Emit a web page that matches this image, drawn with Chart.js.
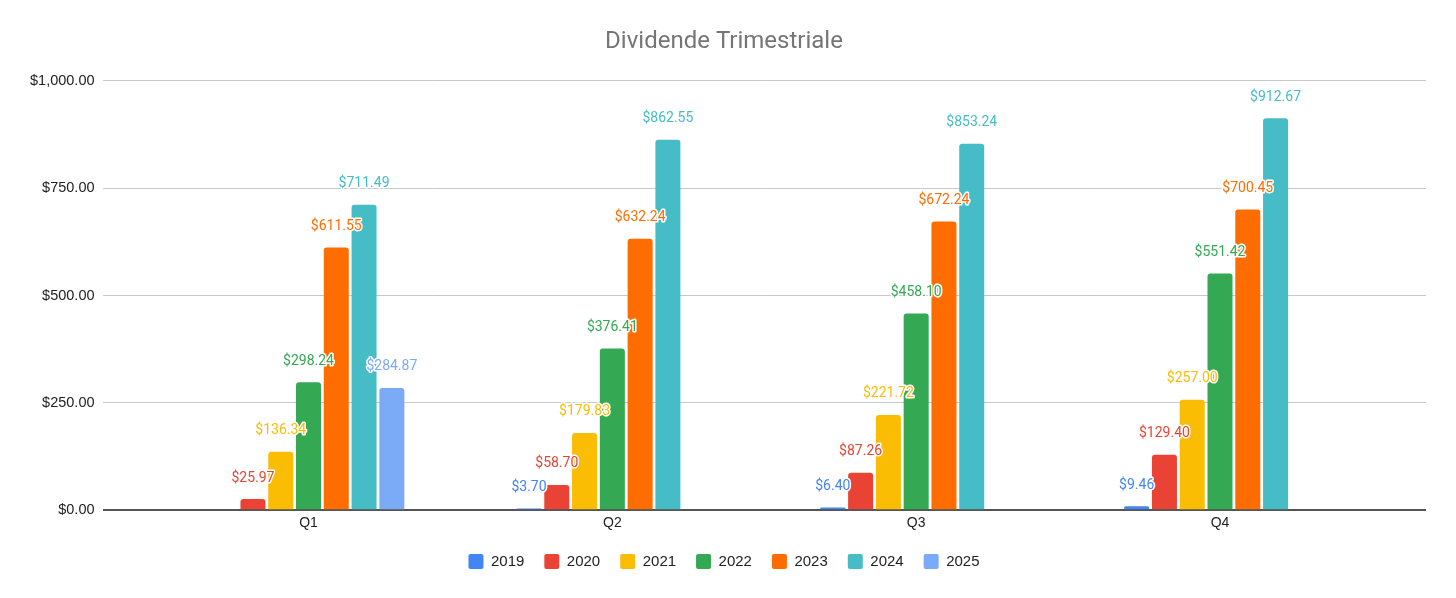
<!DOCTYPE html>
<html>
<head>
<meta charset="utf-8">
<script src="https://cdn.jsdelivr.net/npm/chart.js@4"></script>
<style>
  html, body { margin: 0; padding: 0; background: #fff; }
  #wrap { width: 1456px; height: 598px; }
</style>
</head>
<body>
<div id="wrap"><canvas id="grafico"></canvas></div>
<script>
const trimestri = ['Q1', 'Q2', 'Q3', 'Q4'];
const anni = ['2019', '2020', '2021', '2022', '2023', '2024', '2025'];
const colori = ['#4285F4', '#EA4335', '#FBBC04', '#34A853', '#FF6D01', '#46BDC6', '#7BAAF7'];

const dati2019 = [null, 3.70, 6.40, 9.46];
const dati2020 = [25.97, 58.70, 87.26, 129.40];
const dati2021 = [136.34, 179.83, 221.72, 257.00];
const dati2022 = [298.24, 376.41, 458.10, 551.42];
const dati2023 = [611.55, 632.24, 672.24, 700.45];
const dati2024 = [711.49, 862.55, 853.24, 912.67];
const dati2025 = [284.87, null, null, null];
const serie = [dati2019, dati2020, dati2021, dati2022, dati2023, dati2024, dati2025];

const tickY = [0, 250, 500, 750, 1000];

const dollari = v => '$' + v.toLocaleString('en-US', { minimumFractionDigits: 2, maximumFractionDigits: 2 });

// etichette sopra le barre, con bordo bianco come in Sheets
const etichette = {
  id: 'etichette',
  afterDatasetsDraw(chart) {
    const ctx = chart.ctx;
    ctx.save();
    ctx.font = '14px Roboto, "Liberation Sans", sans-serif';
    ctx.textAlign = 'center';
    ctx.textBaseline = 'middle';
    ctx.lineJoin = 'round';
    chart.data.datasets.forEach((ds, i) => {
      chart.getDatasetMeta(i).data.forEach((bar, j) => {
        const v = ds.data[j];
        if (v === null) return;
        const txt = dollari(v);
        const y = bar.y - 21;
        ctx.lineWidth = 3;
        ctx.strokeStyle = '#fff';
        ctx.strokeText(txt, bar.x, y);
        ctx.fillStyle = ds.backgroundColor;
        ctx.fillText(txt, bar.x, y);
      });
    });
    ctx.restore();
  }
};

const ctx = document.getElementById('grafico');

new Chart(ctx, {
  type: 'bar',
  data: {
    labels: trimestri,
    datasets: anni.map((a, i) => ({
      label: a,
      data: serie[i],
      backgroundColor: colori[i],
      borderRadius: 3,
      categoryPercentage: 0.64,
      barPercentage: 0.9
    }))
  },
  options: {
    responsive: true,
    maintainAspectRatio: false,
    animation: false,
    layout: { padding: { top: 28, right: 30, bottom: 19, left: 22 } },
    plugins: {
      title: {
        display: true,
        text: 'Dividende Trimestriale',
        color: '#757575',
        font: { family: 'Roboto, "Liberation Sans", sans-serif', size: 24, weight: 'normal' },
        padding: { top: 0, bottom: 24 }
      },
      legend: {
        position: 'bottom',
        labels: {
          color: '#222',
          font: { family: '"Liberation Sans", Arial, sans-serif', size: 15 },
          boxWidth: 15,
          boxHeight: 15,
          useBorderRadius: true,
          borderRadius: 2,
          padding: 20
        }
      },
      tooltip: { enabled: false }
    },
    scales: {
      x: {
        // margine laterale come in Google Sheets
        afterBuildTicks(s) {
          const pad = 0.178;
          s._startValue = -0.5 - pad;
          s._valueRange = trimestri.length + 2 * pad;
        },
        afterFit(s) { s.height -= 3; },
        grid: { display: false, drawTicks: false },
        border: { display: false },
        ticks: {
          color: '#222',
          font: { family: '"Liberation Sans", Arial, sans-serif', size: 14 },
          padding: 5
        }
      },
      y: {
        min: 0,
        max: 1000,
        afterBuildTicks(s) { s.ticks = tickY.map(v => ({ value: v })); },
        border: { display: false },
        grid: {
          drawTicks: false,
          color: c => c.tick.value === 0 ? '#555' : '#c8c8c8',
          lineWidth: c => c.tick.value === 0 ? 2 : 1
        },
        ticks: {
          color: '#222',
          font: { family: '"Liberation Sans", Arial, sans-serif', size: 14.5 },
          padding: 8,
          callback: v => dollari(v)
        }
      }
    }
  },
  plugins: [etichette]
});
</script>
</body>
</html>
